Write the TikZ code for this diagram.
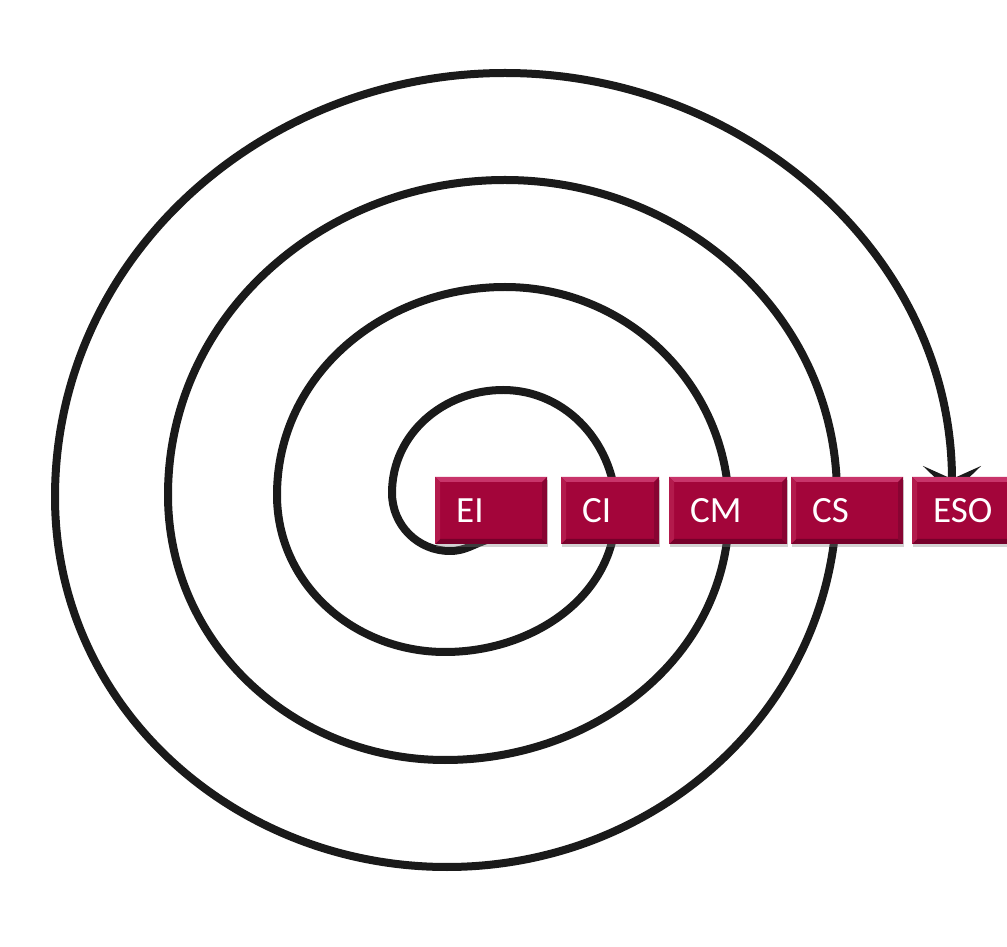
\documentclass[tikz,border=0pt]{standalone}
\usepackage{fontspec}
\setmainfont{Carlito}
\usetikzlibrary{arrows.meta,shadows}
\definecolor{boxred}{HTML}{A3053A}
\definecolor{bevtop}{HTML}{C8346A}
\definecolor{bevleft}{HTML}{B31A4C}
\definecolor{bevbot}{HTML}{76002A}
\definecolor{bevright}{HTML}{880432}
\definecolor{spiralcol}{HTML}{1A1A1A}
\tikzset{
  spiral/.style={line width=8pt, draw=spiralcol, line cap=round},
  stagebox/.style={rectangle, fill=boxred, text=white,
    font=\fontsize{37}{37}\selectfont, minimum height=67pt,
    inner xsep=21pt, inner ysep=0pt, align=left, anchor=west,
    drop shadow={shadow xshift=1pt, shadow yshift=-3pt, opacity=0.35},
    path picture={
      \fill[bevtop] (path picture bounding box.north west) -- (path picture bounding box.north east)
        -- ([shift={(-5pt,-5pt)}]path picture bounding box.north east)
        -- ([shift={(5pt,-5pt)}]path picture bounding box.north west) -- cycle;
      \fill[bevbot] (path picture bounding box.south west) -- (path picture bounding box.south east)
        -- ([shift={(-5pt,5pt)}]path picture bounding box.south east)
        -- ([shift={(5pt,5pt)}]path picture bounding box.south west) -- cycle;
      \fill[bevleft] (path picture bounding box.south west) -- (path picture bounding box.north west)
        -- ([shift={(5pt,-5pt)}]path picture bounding box.north west)
        -- ([shift={(5pt,5pt)}]path picture bounding box.south west) -- cycle;
      \fill[bevright] (path picture bounding box.south east) -- (path picture bounding box.north east)
        -- ([shift={(-5pt,-5pt)}]path picture bounding box.north east)
        -- ([shift={(-5pt,5pt)}]path picture bounding box.south east) -- cycle;
    }}
}
\begin{document}
\begin{tikzpicture}[x=1pt,y=1pt]
\useasboundingbox (0,0) rectangle (1007,946);
\fill[white] (0,0) rectangle (1007,946);
\clip (0,0) rectangle (1007,946);
% spiral points (y upward)
\coordinate (S)  at (490,407);
\coordinate (B0) at (450,395);
\coordinate (L1) at (392,453);
\coordinate (T1) at (503,556);
\coordinate (R1) at (616,436);
\coordinate (B1) at (445,294);
\coordinate (L2) at (277,451);
\coordinate (T2) at (505,659);
\coordinate (R2) at (729,436);
\coordinate (B2) at (445,186);
\coordinate (L3) at (168,451);
\coordinate (T3) at (505,766);
\coordinate (R3) at (837,451);
\coordinate (B3) at (447,79);
\coordinate (L4) at (55,449);
\coordinate (T4) at (505,873);
\coordinate (E)  at (952,452);
\draw[spiral, -{Stealth[length=28pt,width=58pt,inset=13pt]}]
  (S) to[out=195,in=0] (B0)
  to[out=180,in=270] (L1) to[out=90,in=180] (T1) to[out=0,in=90] (R1) to[out=270,in=0] (B1)
  to[out=180,in=270] (L2) to[out=90,in=180] (T2) to[out=0,in=90] (R2) to[out=270,in=0] (B2)
  to[out=180,in=270] (L3) to[out=90,in=180] (T3) to[out=0,in=90] (R3) to[out=270,in=0] (B3)
  to[out=180,in=270] (L4) to[out=90,in=180] (T4) to[out=0,in=90] (E);
% stage boxes
\node[stagebox, text width=70pt] (ei)  at (435,435.5) {EI};
\node[stagebox, text width=56pt] (ci)  at (561,435.5) {CI};
\node[stagebox, text width=76pt] (cm)  at (669,435.5) {CM};
\node[stagebox, text width=70pt] (cs)  at (791,435.5) {CS};
\node[stagebox, text width=62pt] (eso) at (912,435.5) {ESO};
\end{tikzpicture}
\end{document}
